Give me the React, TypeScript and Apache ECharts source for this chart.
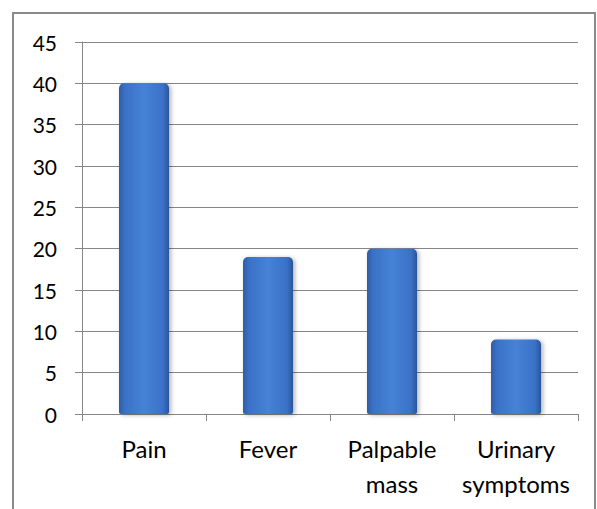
import React, { useEffect, useRef } from "react";
import * as echarts from "echarts";

const categories = ["Pain", "Fever", "Palpable\nmass", "Urinary\nsymptoms"];
const values = [40, 19, 20, 9];
const yMin = 0;
const yMax = 45;
const yInterval = 5;

export default function App() {
  const ref = useRef<HTMLDivElement>(null);
  useEffect(() => {
    if (!ref.current) return;
    const chart = echarts.init(ref.current, null, { renderer: "svg" });
    const gray = "#868686";
    const font = "Lato, 'Open Sans', sans-serif";
    chart.setOption({
      animation: false,
      backgroundColor: "#ffffff",
      textStyle: { fontFamily: font },
      graphic: [
        {
          type: "rect",
          shape: { x: 13, y: 13, width: 582, height: 600 },
          style: { fill: "none", stroke: "#8a8a8a", lineWidth: 2 },
          silent: true,
        },
      ],
      grid: { left: 82, right: 19, top: 42, bottom: 95, containLabel: false },
      xAxis: {
        type: "category",
        data: categories,
        axisLine: { show: true, lineStyle: { color: gray, width: 1 } },
        axisTick: { show: true, length: 7, alignWithLabel: false, lineStyle: { color: gray } },
        axisLabel: {
          color: "#000",
          fontSize: 24,
          fontWeight: "normal",
          lineHeight: 35,
          margin: 17,
          interval: 0,
          fontFamily: font,
        },
        splitLine: { show: false },
      },
      yAxis: {
        type: "value",
        min: yMin,
        max: yMax,
        interval: yInterval,
        axisLine: { show: true, lineStyle: { color: gray, width: 1 } },
        axisTick: { show: true, length: 7, lineStyle: { color: gray } },
        axisLabel: {
          color: "#000",
          fontSize: 21,
          fontWeight: "normal",
          margin: 25,
          fontFamily: font,
        },
        splitLine: { show: true, lineStyle: { color: gray, width: 1 } },
      },
      series: [
        {
          type: "bar",
          data: values,
          barWidth: 50,
          itemStyle: {
            borderRadius: [5, 5, 2, 2],
            shadowColor: "rgba(0,0,0,0.3)",
            shadowBlur: 4,
            shadowOffsetX: 2,
            shadowOffsetY: 1,
            color: {
              type: "linear",
              x: 0,
              y: 0,
              x2: 1,
              y2: 0,
              colorStops: [
                { offset: 0, color: "#2E5DA6" },
                { offset: 0.12, color: "#3A71C6" },
                { offset: 0.5, color: "#4682D6" },
                { offset: 0.88, color: "#3A71C6" },
                { offset: 1, color: "#2A549A" },
              ],
            },
          },
        },
      ],
    });
    return () => chart.dispose();
  }, []);
  return (
    <div
      ref={ref}
      style={{ position: "absolute", left: 0, top: 0, width: 597, height: 509, background: "#fff" }}
    />
  );
}
